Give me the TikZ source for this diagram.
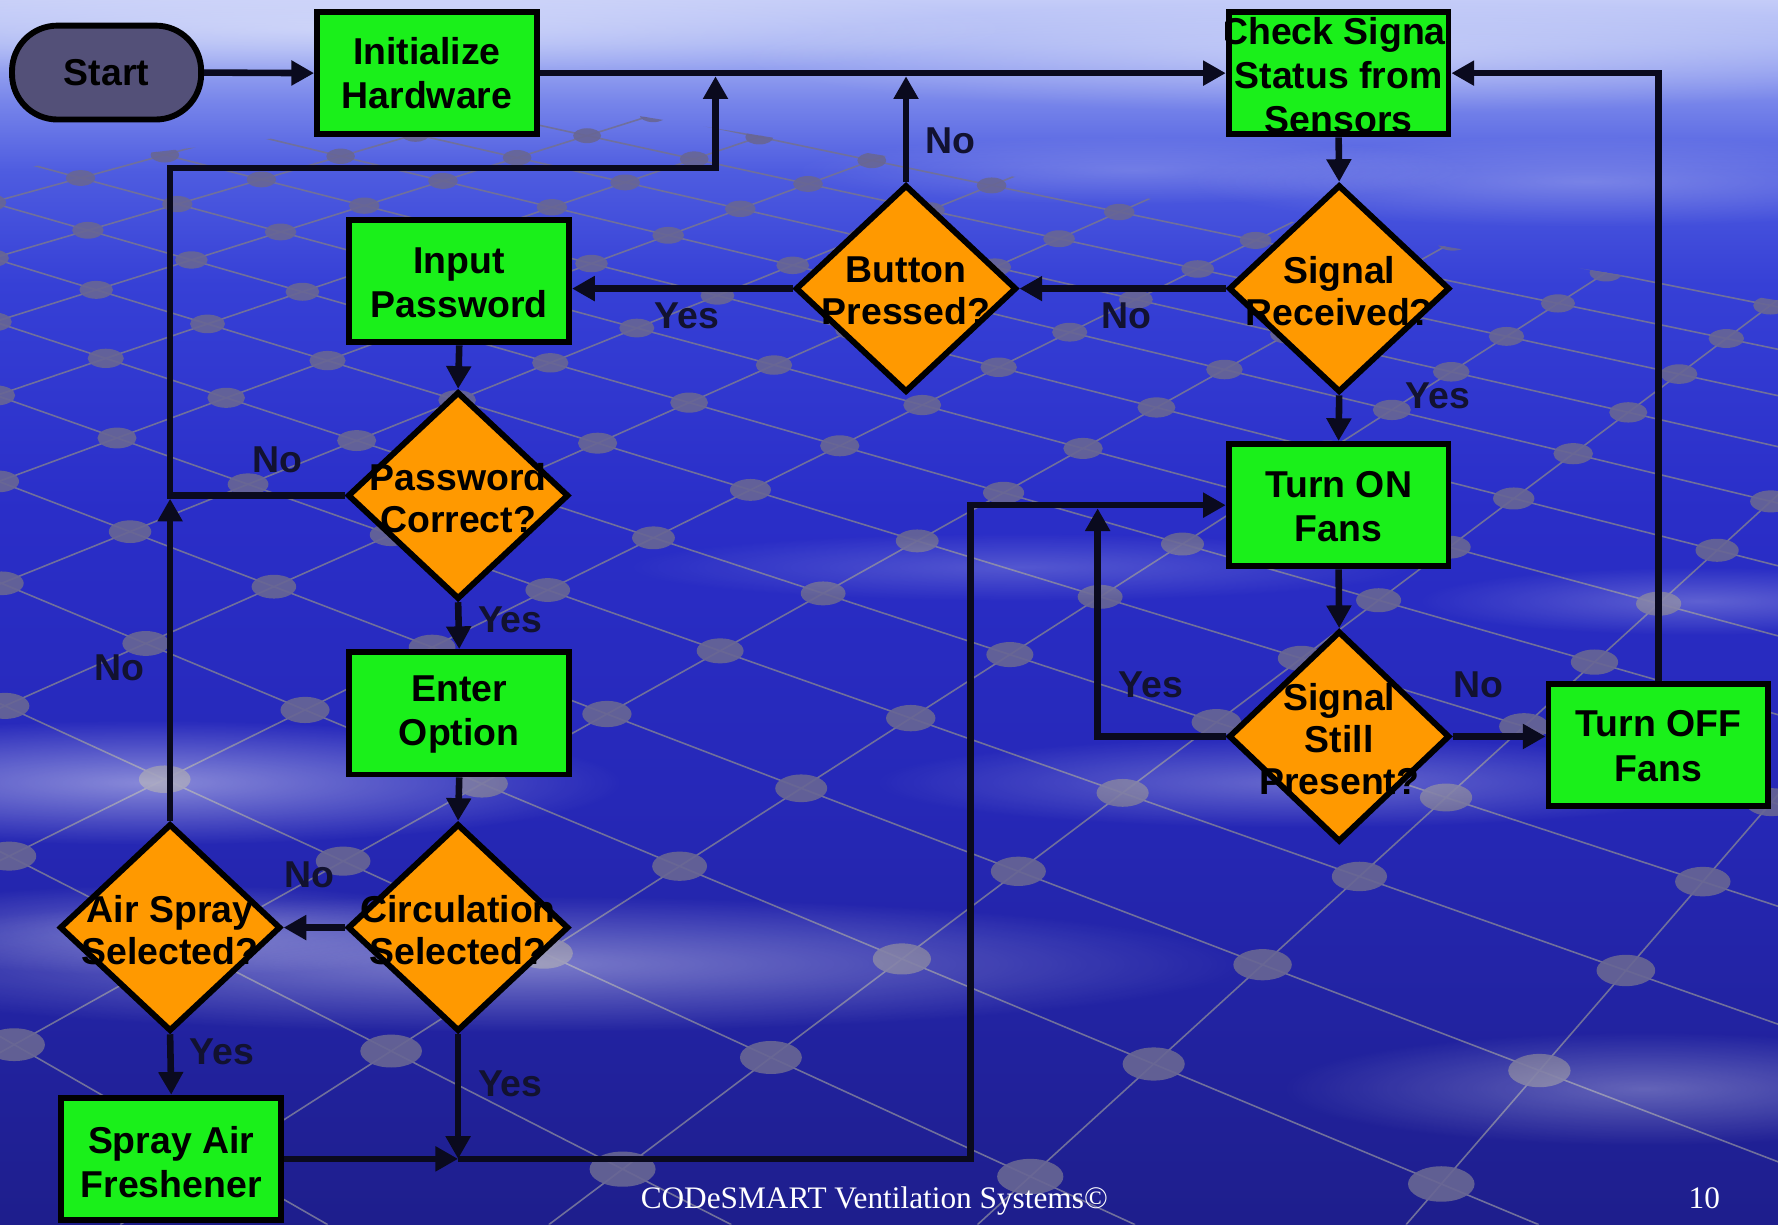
\documentclass[tikz,border=0pt]{standalone}
\usepackage{fontspec}
\setmainfont{Liberation Sans}
\newfontfamily\footserif{Liberation Serif}
\usetikzlibrary{shapes.geometric,arrows.meta,fadings}
\definecolor{skyH}{RGB}{196,204,248}
\definecolor{skyG}{RGB}{168,180,244}
\definecolor{skyF}{RGB}{118,132,234}
\definecolor{skyE}{RGB}{78,92,224}
\definecolor{skyD}{RGB}{54,64,214}
\definecolor{skyC}{RGB}{42,46,200}
\definecolor{skyB}{RGB}{38,40,184}
\definecolor{skyA}{RGB}{30,30,140}
\definecolor{procgreen}{RGB}{26,240,26}
\definecolor{decorange}{RGB}{255,153,0}
\definecolor{startfill}{RGB}{83,80,120}
\definecolor{linec}{RGB}{10,10,30}
\definecolor{labc}{RGB}{18,18,48}
\definecolor{gridc}{RGB}{112,112,155}
\definecolor{dotc}{RGB}{104,102,148}
\pgfdeclareverticalshading{skyshade}{100bp}{color(0bp)=(skyA); color(25bp)=(skyA); color(42.6bp)=(skyB); color(54.2bp)=(skyC); color(63.4bp)=(skyD); color(68bp)=(skyE); color(70.8bp)=(skyF); color(73.2bp)=(skyG); color(75bp)=(skyH); color(100bp)=(skyH)}
\tikzfading[name=cloudfade, inner color=transparent!0, outer color=transparent!100]
\newcommand\skycloud[5]{%
  \fill[white,opacity=#5,path fading=cloudfade] (#1,#2) ellipse [x radius=#3, y radius=#4];}
\begin{document}
\begin{tikzpicture}[x=0.5pt,y=-0.5pt,
  proc/.style={rectangle, draw=black, line width=2.6pt, fill=procgreen, minimum width=96.9pt, minimum height=54pt, inner sep=0pt},
  dec/.style={diamond, draw=black, line width=2.6pt, fill=decorange, minimum width=97.5pt, minimum height=91.5pt, inner sep=0pt},
  term/.style={rectangle, rounded corners=20pt, draw=black, line width=2.6pt, fill=startfill, minimum width=83.4pt, minimum height=41.4pt, inner sep=0pt},
  btext/.style={font=\fontsize{16.5}{19.5}\selectfont\bfseries, align=center, text=black},
  dtext/.style={font=\fontsize{16.5}{18.5}\selectfont\bfseries, align=center, text=black},
  lab/.style={font=\fontsize{16.5}{19.5}\selectfont\bfseries, text=labc, anchor=base, inner sep=0pt},
  conn/.style={draw=linec, line width=2.9pt},
  arr/.style={conn, -{Triangle[length=10pt,width=10.5pt]}},
  gridl/.style={draw=gridc, line width=0.7pt}]
\useasboundingbox (0,0) rectangle (1568,1080);
% ---------- background ----------
\begin{scope}
\clip (0,0) rectangle (1568,1080);
\shade[shading=skyshade] (0,0) rectangle (1568,1080);
\skycloud{300}{25}{600}{45}{0.35}
\skycloud{1200}{50}{550}{50}{0.35}
\skycloud{1400}{160}{350}{40}{0.25}
\skycloud{1000}{150}{300}{30}{0.2}
\begin{scope}
\clip (0,150) -- (500,92) -- (1568,265) -- (1568,1080) -- (0,1080) -- cycle;
\foreach \i in {-18,...,5}{
  \pgfmathsetmacro\xa{1713-356*\i}
  \draw[gridl] (-2550,-550) -- (\xa,1080);
}
\foreach \j in {-1,...,15}{
  \pgfmathsetmacro\xb{1240-378*\j}
  \draw[gridl] (2650,-550) -- (\xb,1080);
}
\foreach \i in {-18,...,5}{
  \foreach \j in {-1,...,15}{
    \pgfmathsetmacro\xa{17.13-3.56*\i}
    \pgfmathsetmacro\xb{12.40-3.78*\j}
    \pgfmathsetmacro\tq{52/(\xa-\xb+52)}
    \pgfmathsetmacro\px{-2550+(\xa+25.5)*100*\tq}
    \pgfmathsetmacro\py{-550+1630*\tq}
    \fill[dotc,opacity=0.9] (\px,\py) ellipse [x radius={30*\tq}, y radius={16*\tq}];
  }
}
\end{scope}
\skycloud{130}{690}{420}{55}{0.45}
\skycloud{450}{850}{650}{60}{0.4}
\skycloud{150}{820}{300}{40}{0.3}
\skycloud{1150}{690}{380}{40}{0.3}
\skycloud{1450}{960}{320}{50}{0.3}
\skycloud{900}{500}{350}{30}{0.2}
\skycloud{1500}{530}{250}{30}{0.25}
\end{scope}
% ---------- nodes ----------
\node[term] (start) at (94,64) {};
\node[btext] at (start) {Start};
\node[proc] (init) at (376.5,64.5) {};
\node[btext] at (init) {Initialize\\Hardware};
\node[proc] (check) at (1180.5,64.5) {};
\begin{scope}
\clip (check.south west) rectangle (check.north east);
\node[btext] at ([yshift=-1pt]check.center) {Check Signa\phantom{l}\\Status from\\Sensors};
\end{scope}
\node[dec] (sigrec) at (1181,254.5) {};
\node[dtext] at ([yshift=-1pt]sigrec.center) {Signal\\Received?};
\node[dec] (button) at (799,254.5) {};
\node[dtext] at ([yshift=-1pt]button.center) {Button\\Pressed?};
\node[proc] (input) at (405,248) {};
\node[btext] at ([yshift=-0.7pt]input.center) {Input\\Password};
\node[dec] (passc) at (404,437) {};
\node[dtext] at ([yshift=-1.2pt]passc.center) {Password\\Correct?};
\node[proc] (enter) at (405,629) {};
\node[btext] at ([yshift=-0.7pt]enter.center) {Enter\\Option};
\node[dec] (circ) at (404,818) {};
\node[dtext] at ([yshift=-1.2pt]circ.center) {Circulation\\Selected?};
\node[dec] (airspray) at (150,818) {};
\node[dtext] at ([yshift=-1.2pt]airspray.center) {Air Spray\\Selected?};
\node[proc] (spray) at (151,1022) {};
\node[btext] at ([yshift=-1.5pt]spray.center) {Spray Air\\Freshener};
\node[proc] (turnon) at (1180.5,445.5) {};
\node[btext] at ([yshift=-0.5pt]turnon.center) {Turn ON\\Fans};
\node[dec, minimum height=93pt] (still) at (1181,649.5) {};
\node[dtext] at ([yshift=-1pt]still.center) {Signal\\Still\\Present?};
\node[proc] (turnoff) at (1462.5,657) {};
\node[btext] at ([yshift=-0.5pt]turnoff.center) {Turn OFF\\Fans};
% ---------- helper coordinates ----------
\coordinate (loopR) at (631,148);
\coordinate (bus) at (856,0);
\coordinate (yesx) at (968,0);
% ---------- connectors ----------
\draw[arr] (start.east) -- (init.west);
\draw[arr] (init.east) -- (check.west);
\draw[arr] (check.south) -- (sigrec.north);
\draw[arr] (sigrec.west) -- (button.east);
\draw[arr] (button.west) -- (button.west -| input.east);
\draw[arr, shorten >=1.4pt] (button.north) -- (button.north |- init.east);
\draw[arr] (input.south) -- (passc.north);
\draw[arr, shorten >=1.4pt] (passc.west) -- (passc.west -| airspray.north) -- (airspray.north |- loopR) -- (loopR) -- (loopR |- init.east);
\draw[arr] (passc.south) -- (enter.north);
\draw[arr] (enter.south) -- (circ.north);
\draw[arr] (circ.west) -- (airspray.east);
\draw[arr, shorten >=1.4pt] (airspray.north) -- (airspray.north |- passc.west);
\draw[arr] (airspray.south) -- (spray.north);
\draw[arr] (circ.south) -- (circ.south |- spray.east);
\draw[arr] (spray.east) -- (circ.south |- spray.east);
\draw[arr] (circ.south |- spray.east) -- (bus |- spray.east) -- (bus |- turnon.west) -- (turnon.west);
\draw[arr] (sigrec.south) -- (turnon.north);
\draw[arr] (turnon.south) -- (still.north);
\draw[arr, shorten >=1.4pt] (still.west) -- (still.west -| yesx) -- (yesx |- turnon.west);
\draw[arr] (still.east) -- (still.east -| turnoff.west);
\draw[arr] (turnoff.north) -- (turnoff.north |- check.east) -- (check.east);
% ---------- labels ----------
\node[lab] (l1) at (838,135) {No};
\node[lab] (l2) at (993,290) {No};
\node[lab] (l3) at (606,290) {Yes};
\node[lab] (l4) at (1268,360) {Yes};
\node[lab] (l5) at (245,417) {No};
\node[lab] (l6) at (450,558) {Yes};
\node[lab] (l7) at (105,600) {No};
\node[lab] (l8) at (273,783) {No};
\node[lab] (l9) at (196,939) {Yes};
\node[lab] (l10) at (450,967) {Yes};
\node[lab] (l11) at (1015,615) {Yes};
\node[lab] (l12) at (1304,615) {No};
% ---------- footer ----------
\node[font=\footserif\fontsize{13.8}{16}\selectfont, text=white, anchor=base, inner sep=0pt] (foot) at (771,1066) {CODeSMART Ventilation Systems©};
\node[font=\footserif\fontsize{13.8}{16}\selectfont, text=white, anchor=base, inner sep=0pt] (pnum) at (1503,1066) {10};
\end{tikzpicture}
\end{document}
